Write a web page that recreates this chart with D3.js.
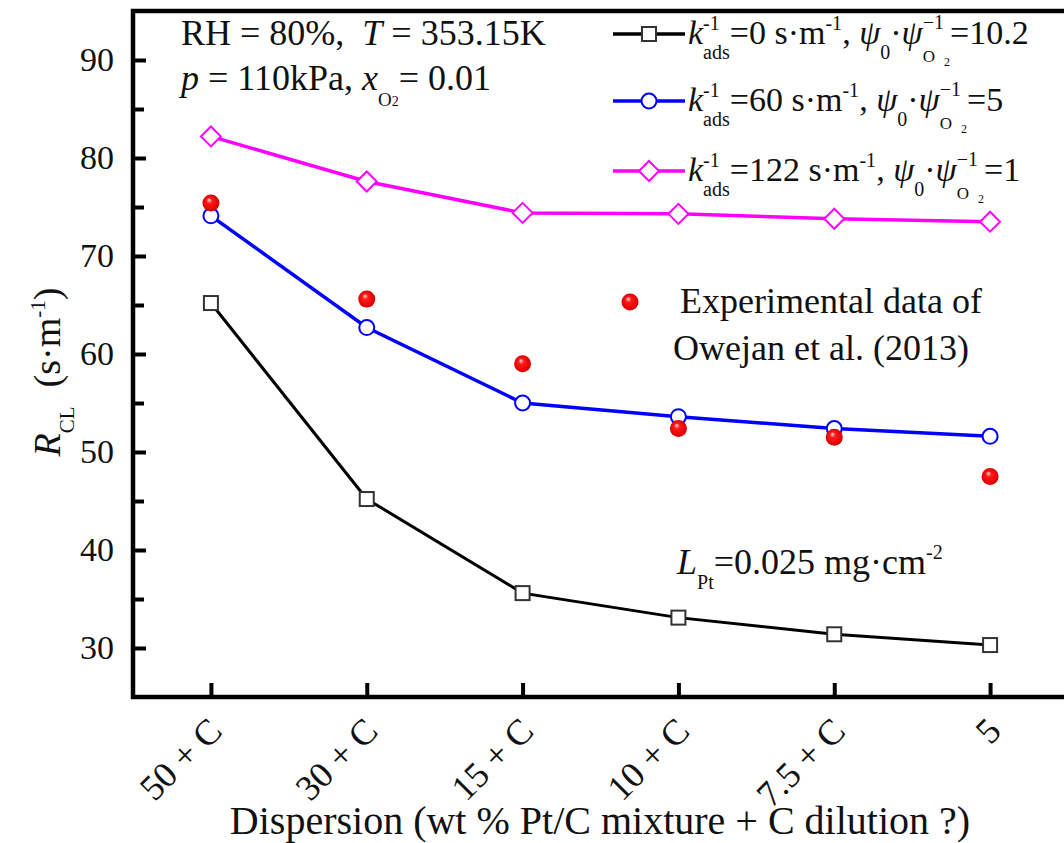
<!DOCTYPE html>
<html>
<head>
<meta charset="utf-8">
<script src="https://cdn.jsdelivr.net/npm/d3@7"></script>
<style>
  body { margin: 0; background: #fff; }
  svg text { font-family: "Liberation Serif", "Times New Roman", serif; fill: #111; white-space: pre; }
</style>
</head>
<body>
<svg id="chart"></svg>
<script>
// data
const categories = ['50 + C', '30 + C', '15 + C', '10 + C', '7.5 + C', '5'];
const k0 = [65.2, 45.2, 35.6, 33.1, 31.4, 30.3];        // k_ads^-1 = 0
const k60 = [74.1, 62.7, 55.0, 53.6, 52.4, 51.6];       // k_ads^-1 = 60
const k122 = [82.2, 77.6, 74.4, 74.3, 73.8, 73.5];      // k_ads^-1 = 122
const expData = [75.4, 65.6, 59.0, 52.4, 51.5, 47.5];   // Owejan et al. (2013)
const yTicks = [30, 40, 50, 60, 70, 80, 90];
const yMinor = [35, 45, 55, 65, 75, 85];

const W = 1064, H = 843;
const pLeft = 133, pTop = 11, pBottom = 697, pRight = 1068;

const svg = d3.select('#chart').attr('width', W).attr('height', H);
svg.append('rect').attr('width', W).attr('height', H).attr('fill', '#fff');

const defs = svg.append('defs');
const grad = defs.append('radialGradient').attr('id', 'ball')
    .attr('cx', '50%').attr('cy', '50%').attr('r', '55%')
    .attr('fx', '38%').attr('fy', '30%');
grad.append('stop').attr('offset', '0%').attr('stop-color', '#ffe0e0');
grad.append('stop').attr('offset', '30%').attr('stop-color', '#ff1a1a');
grad.append('stop').attr('offset', '85%').attr('stop-color', '#e00000');
grad.append('stop').attr('offset', '100%').attr('stop-color', '#b00000');

const xscale = d3.scalePoint().domain(categories).range([pLeft, pRight]).padding(0.5);
const yscale = d3.scaleLinear().domain([25, 95]).range([pBottom, pTop]);

// axes (ticks point inward)
const yaxis = d3.axisLeft(yscale).tickValues(yTicks).tickSize(-13).tickPadding(19);
const yaxisMinor = d3.axisLeft(yscale).tickValues(yMinor).tickSize(-11).tickFormat('');
const xaxis = d3.axisBottom(xscale).tickSize(-14).tickFormat('');

const yg = svg.append('g').attr('transform', `translate(${pLeft},0)`).call(yaxis);
svg.append('g').attr('transform', `translate(${pLeft},0)`).call(yaxisMinor);
svg.append('g').attr('transform', `translate(0,${pBottom})`).call(xaxis);
svg.selectAll('.domain').remove();
svg.selectAll('.tick line').attr('stroke', '#000').attr('stroke-width', 4);
yg.selectAll('.tick text').attr('font-size', 34).attr('fill', '#111')
    .attr('font-family', '"Liberation Serif", serif');

// frame
svg.append('path')
    .attr('d', `M${W + 10},${pTop}H${pLeft}V${pBottom}H${W + 10}`)
    .attr('fill', 'none').attr('stroke', '#000').attr('stroke-width', 4.5);

// rotated category labels
svg.append('g').selectAll('text').data(categories).join('text')
    .attr('transform', d => `translate(${xscale(d) + 13},${pBottom + 36}) rotate(-45)`)
    .attr('text-anchor', 'end').attr('font-size', 36)
    .text(d => d);

// lines and markers
const line = d3.line().x((d, i) => xscale(categories[i])).y(d => yscale(d));

svg.append('path').datum(k0).attr('d', line)
    .attr('fill', 'none').attr('stroke', '#000').attr('stroke-width', 3);
svg.append('path').datum(k60).attr('d', line)
    .attr('fill', 'none').attr('stroke', '#0000ff').attr('stroke-width', 3.5);
svg.append('path').datum(k122).attr('d', line)
    .attr('fill', 'none').attr('stroke', '#ff00ff').attr('stroke-width', 3.5);

svg.append('g').selectAll('rect').data(k0).join('rect')
    .attr('x', (d, i) => xscale(categories[i]) - 7)
    .attr('y', d => yscale(d) - 7)
    .attr('width', 14).attr('height', 14)
    .attr('fill', '#fff').attr('stroke', '#333').attr('stroke-width', 2);

svg.append('g').selectAll('circle').data(k60).join('circle')
    .attr('cx', (d, i) => xscale(categories[i]))
    .attr('cy', d => yscale(d))
    .attr('r', 7.5)
    .attr('fill', '#fff').attr('stroke', '#0000ff').attr('stroke-width', 2);

const diamond = 'M0,-10L10,0L0,10L-10,0Z';
svg.append('g').selectAll('path').data(k122).join('path')
    .attr('transform', (d, i) => `translate(${xscale(categories[i])},${yscale(d)})`)
    .attr('d', diamond)
    .attr('fill', '#fff').attr('stroke', '#ff00ff').attr('stroke-width', 2);

svg.append('g').selectAll('circle').data(expData).join('circle')
    .attr('cx', (d, i) => xscale(categories[i]))
    .attr('cy', d => yscale(d))
    .attr('r', 8.5)
    .attr('fill', 'url(#ball)');

// rich text helper: parts = [text, size, dy, italic, stack]
function rich(g, x, y, parts) {
    let cx = x, stackW = 0;
    parts.forEach(p => {
        const [t, s, dy, it, stack] = p;
        const el = g.append('text')
            .attr('x', cx).attr('y', y + (dy || 0))
            .attr('font-size', s)
            .attr('font-style', it ? 'italic' : 'normal')
            .text(t);
        const w = el.node().getComputedTextLength();
        if (stack) {
            stackW = w;
        } else {
            cx += Math.max(w, stackW);
            stackW = 0;
        }
    });
    return cx;
}

// top-left conditions
const ann = svg.append('g');
rich(ann, 181, 45, [['RH = 80%,  ', 36], ['T', 36, 0, true], [' = 353.15K', 36]]);
rich(ann, 181, 90, [['p', 36, 0, true], [' = 110kPa, ', 36], ['x', 36, 0, true],
    ['O', 19, 16], ['2', 14, 16], ['= 0.01', 36]]);

// legend
const legend = [
    { color: '#000', mark: 'square', y: 44, val: '0', end: '10.2' },
    { color: '#0000ff', mark: 'circle', y: 111, val: '60', end: '5' },
    { color: '#ff00ff', mark: 'diamond', y: 181, val: '122', end: '1' }
];
const lg = svg.append('g');
legend.forEach(d => {
    const ly = d.y - 10;
    lg.append('line').attr('x1', 613).attr('x2', 685).attr('y1', ly).attr('y2', ly)
        .attr('stroke', d.color).attr('stroke-width', 3.5);
    if (d.mark === 'square') {
        lg.append('rect').attr('x', 642).attr('y', ly - 7).attr('width', 14).attr('height', 14)
            .attr('fill', '#fff').attr('stroke', '#333').attr('stroke-width', 2);
    } else if (d.mark === 'circle') {
        lg.append('circle').attr('cx', 649).attr('cy', ly).attr('r', 7.5)
            .attr('fill', '#fff').attr('stroke', d.color).attr('stroke-width', 2);
    } else {
        lg.append('path').attr('transform', `translate(649,${ly})`).attr('d', diamond)
            .attr('fill', '#fff').attr('stroke', d.color).attr('stroke-width', 2);
    }
    rich(lg, 688, d.y, [
        ['k', 34, 0, true], ['-1', 20, -14, false, true], ['ads', 20, 15],
        ['=' + d.val + ' s\u00b7m', 34], ['-1', 20, -14], [', ', 34],
        ['\u03c8', 34, 0, true], ['0', 20, 15], ['\u00b7', 34], ['\u03c8', 34, 0, true],
        ['\u22121', 20, -15, false, true], ['O', 17, 18], ['2', 12, 22],
        ['=' + d.end, 34]
    ]);
});

// experimental data legend
svg.append('circle').attr('cx', 630).attr('cy', 302).attr('r', 8.5).attr('fill', 'url(#ball)');
svg.append('text').attr('x', 680).attr('y', 313).attr('font-size', 36).text('Experimental data of');
svg.append('text').attr('x', 673).attr('y', 360).attr('font-size', 36).text('Owejan et al. (2013)');

// Pt loading
rich(svg.append('g'), 677, 574, [['L', 36, 0, true], ['Pt', 20, 15], ['=0.025 mg\u00b7cm', 36], ['-2', 20, -15]]);

// axis titles
svg.append('text').attr('x', 600).attr('y', 834).attr('text-anchor', 'middle')
    .attr('font-size', 40).text('Dispersion (wt % Pt/C mixture + C dilution ?)');

const yt = svg.append('g');
const yw = rich(yt, 0, 0, [['R', 38, 0, true], ['CL', 21, 14], ['  (s\u00b7m', 38], ['-1', 21, -15], [')', 38]]);
yt.attr('transform', `translate(60,${372 + yw / 2}) rotate(-90)`);
</script>
</body>
</html>
